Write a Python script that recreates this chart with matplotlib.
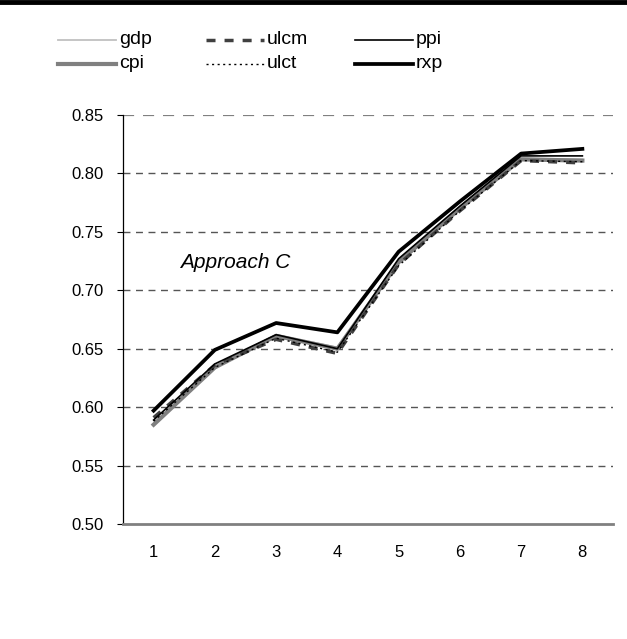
import matplotlib.pyplot as plt
from matplotlib.lines import Line2D

plt.rcParams['font.family'] = ['Liberation Sans', 'DejaVu Sans']

periods = [1, 2, 3, 4, 5, 6, 7, 8]
gdp = [0.585, 0.634, 0.662, 0.651, 0.725, 0.771, 0.813, 0.812]
cpi = [0.585, 0.634, 0.661, 0.650, 0.724, 0.770, 0.812, 0.811]
ulcm = [0.591, 0.636, 0.658, 0.646, 0.722, 0.768, 0.811, 0.809]
ulct = [0.588, 0.634, 0.659, 0.647, 0.721, 0.768, 0.811, 0.810]
ppi = [0.589, 0.637, 0.662, 0.650, 0.727, 0.772, 0.815, 0.815]
rxp = [0.597, 0.649, 0.672, 0.664, 0.733, 0.776, 0.817, 0.821]
yticks = [0.50, 0.55, 0.60, 0.65, 0.70, 0.75, 0.80, 0.85]

W, H = 627, 639
fig = plt.figure(figsize=(W / 100, H / 100), dpi=100)
ax = fig.add_axes([123 / W, 1 - 524 / H, 490 / W, 409 / H])

styles = {
    'gdp': dict(color='#c0c0c0', lw=1.3),
    'cpi': dict(color='#808080', lw=3),
    'ulcm': dict(color='#404040', lw=2.5, ls=(0, (2.6, 2.6))),
    'ulct': dict(color='black', lw=1, ls=(0, (1.5, 2.5))),
    'ppi': dict(color='black', lw=1.2),
    'rxp': dict(color='black', lw=2.7),
}
series = {'gdp': gdp, 'cpi': cpi, 'ulcm': ulcm, 'ulct': ulct, 'ppi': ppi, 'rxp': rxp}

x = list(range(len(periods)))
for name, vals in series.items():
    ax.plot(x, vals, label=name, **styles[name])

ax.set_xlim(-0.5, len(periods) - 0.5)
ax.set_ylim(0.50, 0.85)
ax.set_xticks(x)
ax.set_xticklabels([str(p) for p in periods])
ax.set_yticks(yticks)
ax.set_yticklabels(['%.2f' % v for v in yticks])
ax.tick_params(axis='x', length=0, labelsize=12, pad=15)
ax.tick_params(axis='y', length=4.3, width=0.8, labelsize=12, pad=9.5)

for v in yticks[1:]:
    ax.axhline(v, color='#555555' if v < 0.85 else '#808080', lw=1 if v < 0.85 else 1.6,
               ls=(0, (5, 4)), zorder=0)

for s in ['top', 'right']:
    ax.spines[s].set_visible(False)
ax.spines['left'].set_linewidth(0.9)
ax.spines['bottom'].set_color('#808080')
ax.spines['bottom'].set_linewidth(2)

ax.text(0.43, 0.724, 'Approach C', fontsize=15, style='italic', va='center')

# legend drawn by hand, 3 columns x 2 rows like the original
legend_cols = [['gdp', 'cpi'], ['ulcm', 'ulct'], ['ppi', 'rxp']]
col_x = [58, 206, 355]
row_y = [40, 64]
for cx, names in zip(col_x, legend_cols):
    for ry, name in zip(row_y, names):
        yy = 1 - ry / H
        fig.add_artist(Line2D([cx / W, (cx + 58) / W], [yy, yy],
                              transform=fig.transFigure, **styles[name]))
        fig.text((cx + 61) / W, yy, name, fontsize=14, va='center', ha='left')

fig.add_artist(Line2D([0, 1], [0.9975, 0.9975], color='black', lw=3.5,
                      transform=fig.transFigure))

fig.savefig('out.png', dpi=100)
